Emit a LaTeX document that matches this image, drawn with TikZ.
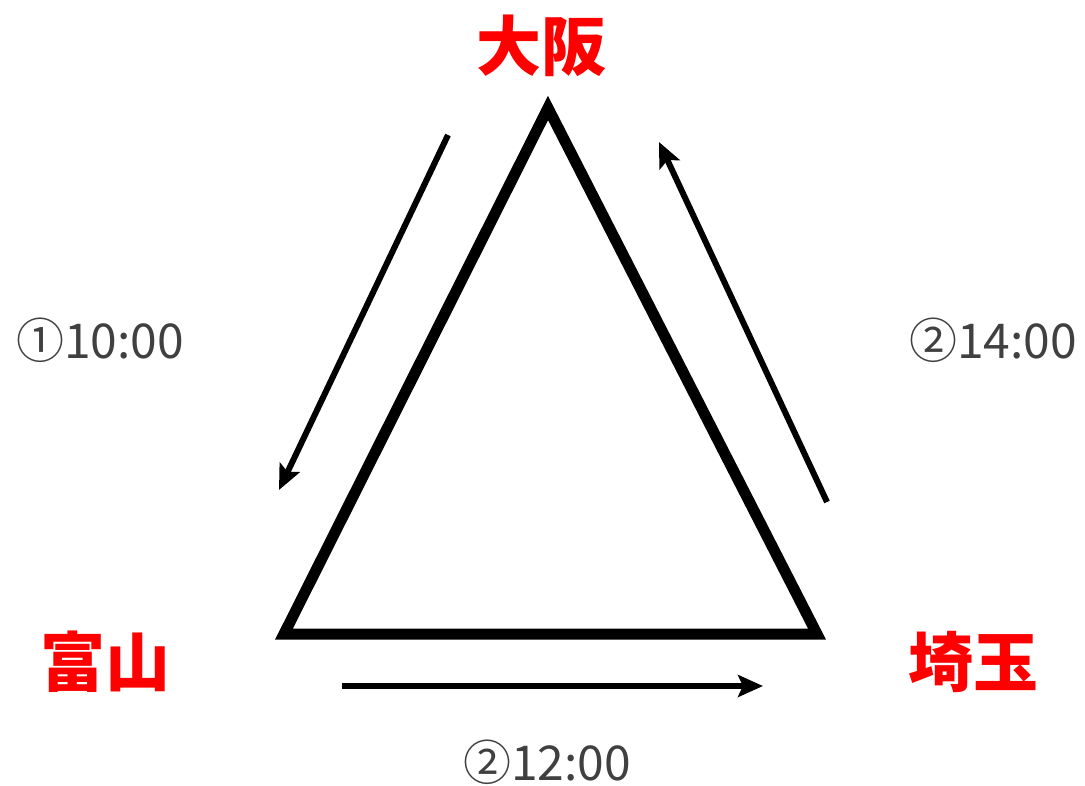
\documentclass[tikz,border=0pt]{standalone}
\usepackage{fontspec}
\usepackage{tikz}
\usetikzlibrary{arrows.meta,positioning}
\setmainfont{Noto Sans CJK JP}
\definecolor{cityred}{HTML}{FF0000}
\definecolor{timegray}{HTML}{404040}
\begin{document}
\begin{tikzpicture}[x=1pt,y=-1pt,
    city/.style={font=\fontsize{65}{68}\selectfont\bfseries,text=cityred,inner sep=0pt},
    clock/.style={font=\fontsize{48}{52}\selectfont,text=timegray,inner sep=0pt,text depth=0pt,anchor=base},
    route/.style={line width=6pt,-{Stealth[length=25pt,width=22pt,inset=5pt]}}]
  \useasboundingbox (0,0) rectangle (1085,785);
  % triangle
  \coordinate (apex) at (548,108);
  \coordinate (westv) at (284,634);
  \coordinate (eastv) at (817,634);
  \draw[line width=11pt,line join=miter] (apex) -- (westv) -- (eastv) -- cycle;
  % cities
  \node[city] (osaka) at (541,46) {大阪};
  \node[city] (toyama) at (105,662) {富山};
  \node[city] (saitama) at (973,662) {埼玉};
  % routes
  \coordinate (r1s) at (448,135);
  \coordinate (r1e) at (279,490);
  \coordinate (r2s) at (342,686);
  \coordinate (r2e) at (763,686);
  \coordinate (r3s) at (827,502);
  \coordinate (r3e) at (659,142);
  \draw[route] (r1s) -- (r1e);
  \draw[route] (r2s) -- (r2e);
  \draw[route] (r3s) -- (r3e);
  % times
  \node[clock] (t1) at (100,358) {①10:00};
  \node[clock] (t2) at (547,780) {②12:00};
  \node[clock] (t3) at (993,358) {②14:00};
\end{tikzpicture}
\end{document}
